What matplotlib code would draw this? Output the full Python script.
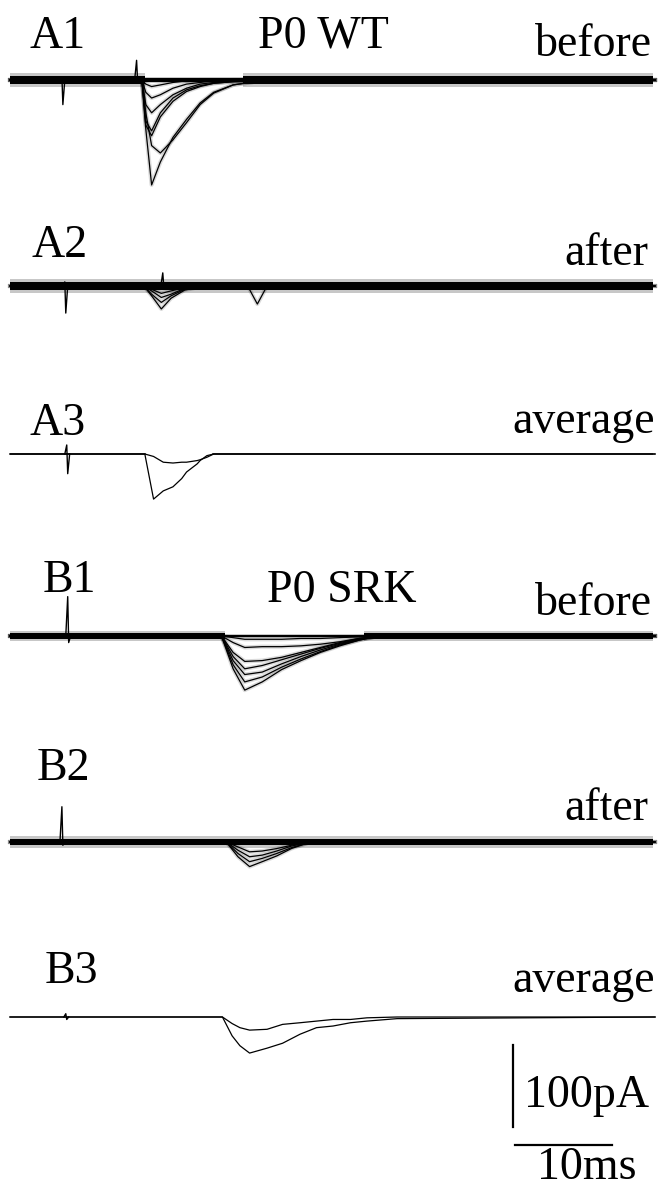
import numpy as np
import matplotlib
matplotlib.use("Agg")
import matplotlib.pyplot as plt

# ------------------------------------------------------------------
# Data (time in ms, current in pA, inward = negative)
# ------------------------------------------------------------------
# A1  P0 WT before (superimposed sweeps)
A1_t = [0, 13.6, 14.0, 14.6, 15.5, 16.8, 18.2, 19.6, 21.0, 23.0, 26.5, 66.5]
A1_s1 = [0, 0, -60, -128, -100, -70, -48, -28, -15, -6, 0, 0]
A1_s2 = [0, 0, -40, -80, -89, -73, -52, -30, -16, -6, 0, 0]
A1_s3 = [0, 0, -55, -68, -45, -26, -14, -8, -4, -2, 0, 0]
A1_s4 = [0, 0, -50, -62, -40, -22, -12, -7, -4, -2, 0, 0]
A1_s5 = [0, 0, -30, -40, -30, -18, -10, -5, -3, -1, 0, 0]
A1_s6 = [0, 0, -15, -22, -18, -10, -5, -3, -1, 0, 0, 0]
A1_s7 = [0, 0, -5, -8, -6, -3, -1, 0, 0, 0, 0, 0]

# A2  after
A2_t = [0, 13.8, 14.6, 15.6, 16.6, 18.0, 20.0, 24.5, 25.5, 26.5, 66.5]
A2_s1 = [0, 0, -12, -28, -15, -5, 0, 0, 0, 0, 0]
A2_s2 = [0, 0, -10, -20, -12, -4, 0, 0, 0, 0, 0]
A2_s3 = [0, 0, -6, -14, -10, -3, 0, 0, -22, 0, 0]
A2_s4 = [0, 0, -4, -9, -6, -2, 0, 0, 0, 0, 0]

# A3  averages
A3_t = [0, 13.9, 14.8, 15.8, 16.8, 17.7, 18.2, 19.3, 19.6, 20.3, 21.0, 66.5]
A3_before = [0, 0, -55, -45, -40, -30, -22, -12, -8, -2, 0, 0]
A3_after = [0, 0, -3, -10, -11, -10, -10, -8, -7, -4, 0, 0]

# B1  P0 SRK before
B1_t = [0, 21.8, 23.0, 24.2, 26.0, 28.0, 30.0, 32.0, 34.0, 36.0, 38.0, 66.5]
B1_s1 = [0, 0, -40, -66, -56, -41, -30, -20, -12, -5, 0, 0]
B1_s2 = [0, 0, -35, -56, -50, -38, -28, -19, -11, -5, 0, 0]
B1_s3 = [0, 0, -30, -47, -44, -34, -25, -17, -10, -4, 0, 0]
B1_s4 = [0, 0, -25, -40, -36, -29, -22, -15, -9, -4, 0, 0]
B1_s5 = [0, 0, -20, -31, -30, -26, -20, -14, -8, -3, 0, 0]
B1_s6 = [0, 0, -8, -14, -13, -13, -12, -10, -7, -3, 0, 0]
B1_s7 = [0, 0, -2, -4, -4, -4, -3, -3, -2, -1, 0, 0]

# B2  after
B2_t = [0, 22.3, 23.5, 24.7, 26.0, 27.5, 29.0, 31.0, 66.5]
B2_s1 = [0, 0, -18, -30, -24, -17, -8, 0, 0]
B2_s2 = [0, 0, -14, -24, -20, -14, -7, 0, 0]
B2_s3 = [0, 0, -10, -18, -16, -11, -5, 0, 0]
B2_s4 = [0, 0, -6, -12, -11, -8, -4, 0, 0]

# B3  averages
B3_t = [0, 21.9, 22.9, 23.7, 24.7, 26.5, 28.1, 29.9, 31.6, 33.3, 35.1, 36.8, 39.9, 66.5]
B3_before = [0, 0, -23, -35, -44, -38, -32, -21, -13, -11, -7, -5, -2, 0]
B3_after = [0, 0, -8, -13, -16, -15, -9, -7, -5, -3, -3, -1, 0, 0]

# stimulus artifacts: time (ms), upward peak (pA), downward peak (pA)
A1_art = [(5.4, 4, -30), (13.1, 24, 0)]
A2_art = [(5.7, 5, -33), (15.8, 16, 0)]
A3_art = [(5.9, 11, -24)]
B1_art = [(6.0, 48, -8)]
B2_art = [(5.4, 43, -4)]
B3_art = [(5.8, 4, -3)]

# baseline noise half-width (pA)
A1_noise, A2_noise, A3_noise = 4.5, 4.5, 1.2
B1_noise, B2_noise, B3_noise = 3.5, 4.0, 0.0

SCALE_PA = 100
SCALE_MS = 10

# ------------------------------------------------------------------
W, H = 663, 1189
PX_PER_MS = 9.7
PX_PER_PA = 0.82
X0_PX = 10

fig = plt.figure(figsize=(W / 100, H / 100), dpi=100)
ax = fig.add_axes([0, 0, 1, 1])
ax.set_xlim(-X0_PX / PX_PER_MS, (W - X0_PX) / PX_PER_MS)
ax.set_ylim(-H / PX_PER_PA, 0)
ax.axis("off")

panels = [
    dict(t=A1_t, sweeps=[A1_s1, A1_s2, A1_s3, A1_s4, A1_s5, A1_s6, A1_s7], art=A1_art,
         noise=A1_noise, base_px=80, win=(13.9, 24.0)),
    dict(t=A2_t, sweeps=[A2_s1, A2_s2, A2_s3, A2_s4], art=A2_art,
         noise=A2_noise, base_px=286, win=None),
    dict(t=A3_t, sweeps=[A3_before, A3_after], art=A3_art,
         noise=A3_noise, base_px=454, win=(14.0, 20.8), avg=True),
    dict(t=B1_t, sweeps=[B1_s1, B1_s2, B1_s3, B1_s4, B1_s5, B1_s6, B1_s7], art=B1_art,
         noise=B1_noise, base_px=636, win=(22.2, 36.5)),
    dict(t=B2_t, sweeps=[B2_s1, B2_s2, B2_s3, B2_s4], art=B2_art,
         noise=B2_noise, base_px=842, win=None),
    dict(t=B3_t, sweeps=[B3_before, B3_after], art=B3_art,
         noise=B3_noise, base_px=1017, win=(22.0, 39.0), avg=True),
]

TEND = (W - 10 - X0_PX) / PX_PER_MS

for p in panels:
    base = -p["base_px"] / PX_PER_PA
    n = p["noise"]
    avg = p.get("avg", False)
    # baseline noise band (thinner inside the response window)
    if n > 0:
        if p["win"] is None:
            segs = [(0, TEND, 1.0)]
        else:
            segs = [(0, p["win"][0], 1.0), (p["win"][0], p["win"][1], 0.45),
                    (p["win"][1], TEND, 1.0)]
        for a, b, f in segs:
            if avg:
                if f == 1.0:
                    ax.fill_between([a, b], base - n, base + n, color="k", alpha=0.55, lw=0)
            else:
                ax.fill_between([a, b], base - 1.8 * n * f, base + 1.8 * n * f,
                                color="k", alpha=0.22, lw=0)
                ax.fill_between([a, b], base - n * f, base + n * f, color="k", lw=0)
    # sweeps
    for s in p["sweeps"]:
        y = base + np.asarray(s, dtype=float)
        if not avg:
            ax.plot(p["t"], y, color="k", lw=3.0, alpha=0.14, solid_joinstyle="round")
        ax.plot(p["t"], y, color="k", lw=0.9)
    # stimulus artifacts
    for (ta, up, dn) in p["art"]:
        ax.plot([ta - 0.25, ta - 0.05, ta + 0.05, ta + 0.25],
                [base, base + up, base + dn, base], color="k", lw=1.0)

# scale bars
sx = (513 - X0_PX) / PX_PER_MS
sy_top = -1045 / PX_PER_PA
ax.plot([sx, sx], [sy_top, sy_top - SCALE_PA], color="k", lw=1.6)
hx = (515 - X0_PX) / PX_PER_MS
hy = -1145 / PX_PER_PA
ax.plot([hx, hx + SCALE_MS], [hy, hy], color="k", lw=1.6)

# text labels (x px, baseline px)
FONT = "Liberation Serif"
FS = 33
labels = [
    ("A1", 30, 48, "left"), ("P0 WT", 258, 47, "left"), ("before", 652, 56, "right"),
    ("A2", 32, 257, "left"), ("after", 648, 265, "right"),
    ("A3", 30, 435, "left"), ("average", 655, 433, "right"),
    ("B1", 43, 592, "left"), ("P0 SRK", 267, 602, "left"), ("before", 652, 615, "right"),
    ("B2", 37, 780, "left"), ("after", 648, 820, "right"),
    ("B3", 45, 983, "left"), ("average", 655, 992, "right"),
    (f"{SCALE_PA}pA", 524, 1107, "left"), (f"{SCALE_MS}ms", 537, 1179, "left"),
]
for txt, x, y, ha in labels:
    fig.text(x / W, 1 - y / H, txt, ha=ha, va="baseline", fontsize=FS, family=FONT, color="k")

fig.savefig("out.png", dpi=100)
